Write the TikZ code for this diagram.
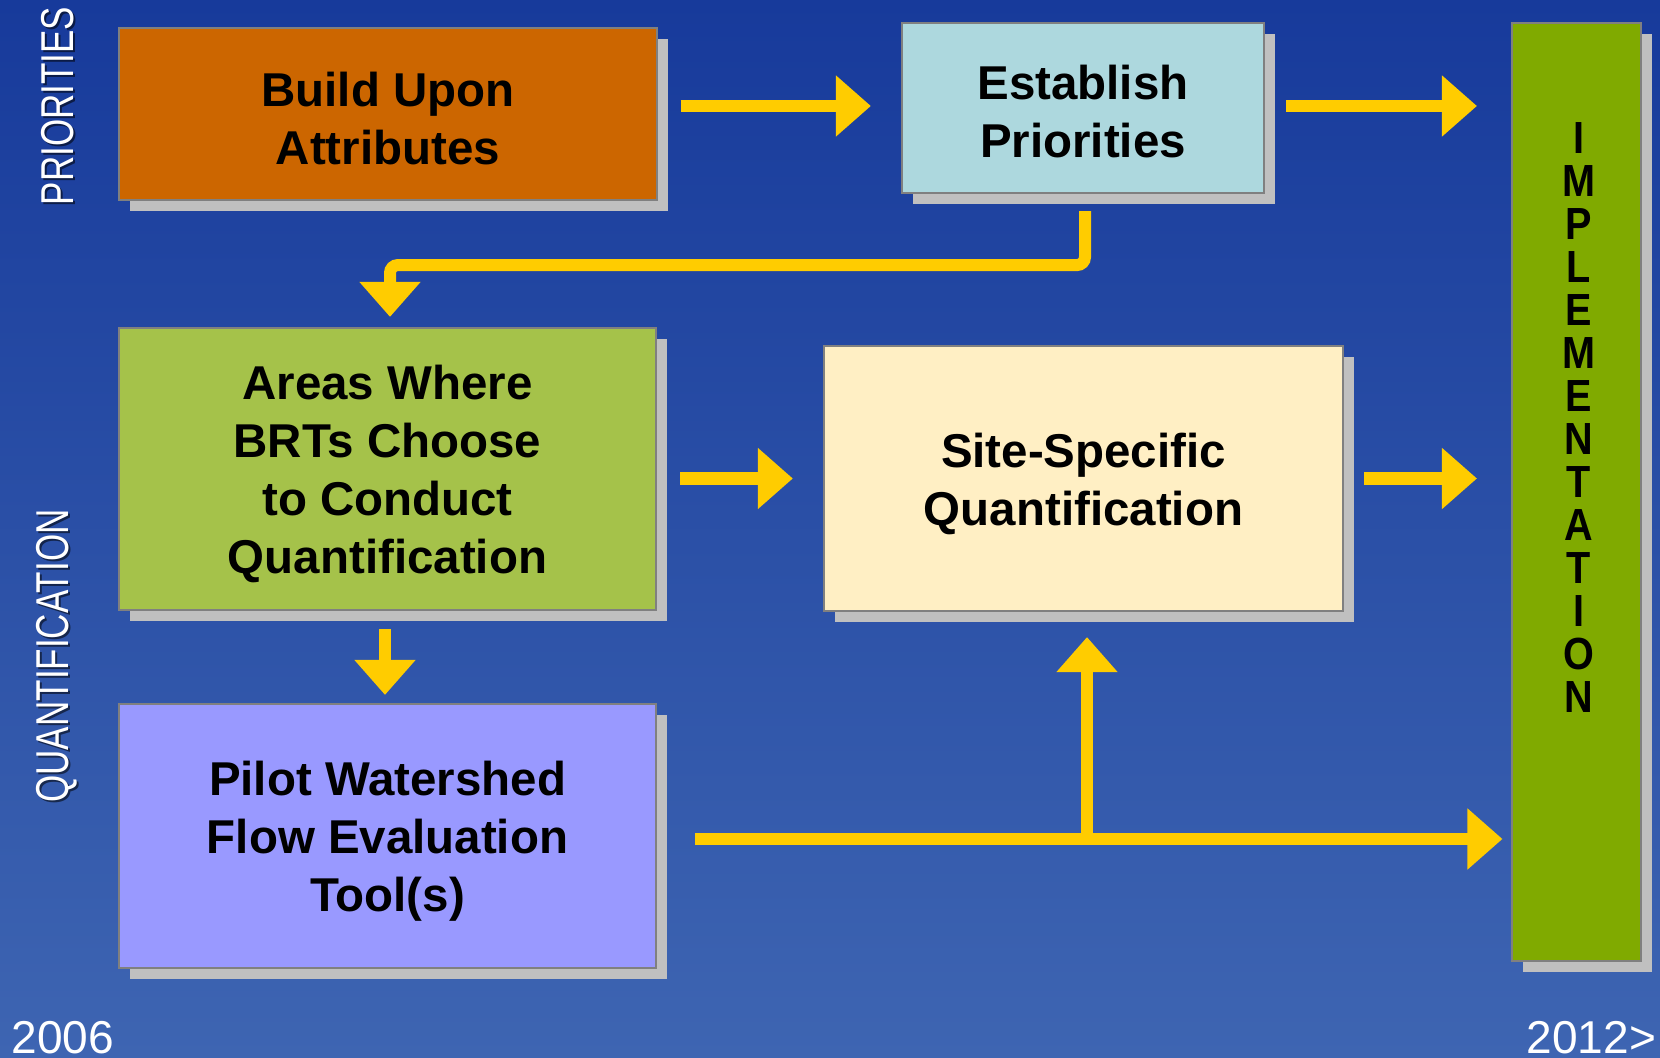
\documentclass[tikz,border=0pt]{standalone}
\usepackage{fontspec}
\setmainfont{Liberation Sans}
\usetikzlibrary{arrows.meta,calc,shadows}

\definecolor{bgtop}{RGB}{23,58,155}
\definecolor{bgbot}{RGB}{62,101,178}
\definecolor{orangebox}{RGB}{204,102,0}
\definecolor{bluebox}{RGB}{173,216,222}
\definecolor{greenbox}{RGB}{165,194,74}
\definecolor{creambox}{RGB}{255,239,196}
\definecolor{violetbox}{RGB}{153,153,255}
\definecolor{implgreen}{RGB}{128,170,0}
\definecolor{shadowgray}{RGB}{192,192,192}
\definecolor{edgegray}{RGB}{128,128,128}
\definecolor{arrowyellow}{RGB}{255,204,0}

\newcommand\blockfont{\fontsize{13.5}{16.5}\selectfont\bfseries}
\newcommand\stackfont{\fontsize{12.8}{12.23}\selectfont\bfseries}
\newcommand\labelfont{\fontsize{13.1}{15}\selectfont}

\tikzset{
  box/.style={draw=edgegray, line width=0.02cm, inner sep=0pt,
    drop shadow={shadow xshift=0.11cm, shadow yshift=-0.11cm,
      fill=shadowgray, opacity=1, draw=none}},
  boxtext/.style={align=center, font=\blockfont, text=black, inner sep=0pt},
  arr/.style={draw=arrowyellow, line width=0.12cm,
    -{Triangle[length=0.35cm,width=0.59cm]}},
  sidelbl/.style={text=white, font=\labelfont, rotate=90, inner sep=0pt},
  sideshade/.style={text=black, text opacity=0.55, font=\labelfont, rotate=90, inner sep=0pt},
  yearlbl/.style={text=white, font=\labelfont, inner sep=0pt, anchor=base west},
}

\begin{document}
\begin{tikzpicture}[x=0.01cm, y=-0.01cm]
  \useasboundingbox (0,0) rectangle (1660,1058);
  % background
  \shade[top color=bgtop, bottom color=bgbot] (0,0) rectangle (1660,1058);

  % phase labels on the left
  \node[sideshade] (lpriS) at (60,108) {\scalebox{0.76}[1]{PRIORITIES}};
  \node[sidelbl] (lpri) at (58,106) {\scalebox{0.76}[1]{PRIORITIES}};
  \node[sideshade] (lquaS) at (58.5,658) {\scalebox{0.76}[1]{QUANTIFICATION}};
  \node[sidelbl] (lqua) at (56.5,656) {\scalebox{0.76}[1]{QUANTIFICATION}};

  % process boxes
  \node[box, fill=orangebox, minimum width=5.37cm, minimum height=1.72cm]
    (b1) at (388,114) {};
  \node[boxtext] (b1t) at ($(b1)+(0,5)$) {Build Upon\\Attributes};
  \node[box, fill=bluebox, minimum width=3.62cm, minimum height=1.70cm]
    (b2) at (1083,108) {};
  \node[boxtext] (b2t) at ($(b2)+(0,4)$) {Establish\\Priorities};
  \node[box, fill=greenbox, minimum width=5.37cm, minimum height=2.82cm]
    (b3) at (387.5,469) {};
  \node[boxtext] (b3t) at ($(b3)+(0,5)$) {Areas Where\\BRTs Choose\\to Conduct\\Quantification};
  \node[box, fill=creambox, minimum width=5.19cm, minimum height=2.65cm]
    (b4) at (1083.5,478.5) {};
  \node[boxtext] (b4t) at ($(b4)+(0,5)$) {Site-Specific\\Quantification};
  \node[box, fill=violetbox, minimum width=5.37cm, minimum height=2.64cm]
    (b5) at (387.5,836) {};
  \node[boxtext] (b5t) at ($(b5)+(0,1)$) {Pilot Watershed\\Flow Evaluation\\Tool\smash{(}s\smash{)}};
  \node[box, fill=implgreen, minimum width=1.29cm, minimum height=9.38cm]
    (impl) at (1576.5,492) {};
  \node[font=\stackfont, align=center, inner sep=0pt, anchor=north, xscale=0.88]
    (impltxt) at (1579,122) {I\\M\\P\\L\\E\\M\\E\\N\\T\\A\\T\\I\\O\\N};

  % connectors
  \coordinate (s1) at ([shift={(23,-8)}]b1.east);
  \draw[arr] (s1) -- ($(b2.west |- s1)+(-30,0)$);

  \coordinate (s2) at ([shift={(21,-2)}]b2.east);
  \draw[arr] (s2) -- ($(impl.west |- s2)+(-34,0)$);

  \draw[arr, rounded corners=0.08cm] ($(b2.south)+(2,17)$) -- ++(0,54)
    -| ($(b3.north)+(2.5,-10)$);

  \coordinate (s3) at ($(b3.east |- b4.west)+(23,0)$);
  \draw[arr] (s3) -- ($(b4.west)+(-30,0)$);

  \coordinate (s4) at ($(b4.east)+(20,0)$);
  \draw[arr] (s4) -- ($(impl.west |- s4)+(-34,0)$);

  \draw[arr] ($(b3.south)+(-2.5,18)$) -- ($(b5.north)+(-2.5,-8)$);

  \coordinate (s5) at ($(b5.east)+(38,3)$);
  \draw[arr] (s5) -- ($(impl.west |- s5)+(-8.5,0)$);
  \coordinate (junc) at ($(b4.south |- s5)+(3.5,6)$);
  \draw[arr] (junc) -- ($(b4.south)+(3.5,25)$);

  % time line ends
  \node[yearlbl] (ystart) at (11,1053) {2006};
  \node[yearlbl] (yend) at (1526,1053) {2012>};
\end{tikzpicture}
\end{document}
